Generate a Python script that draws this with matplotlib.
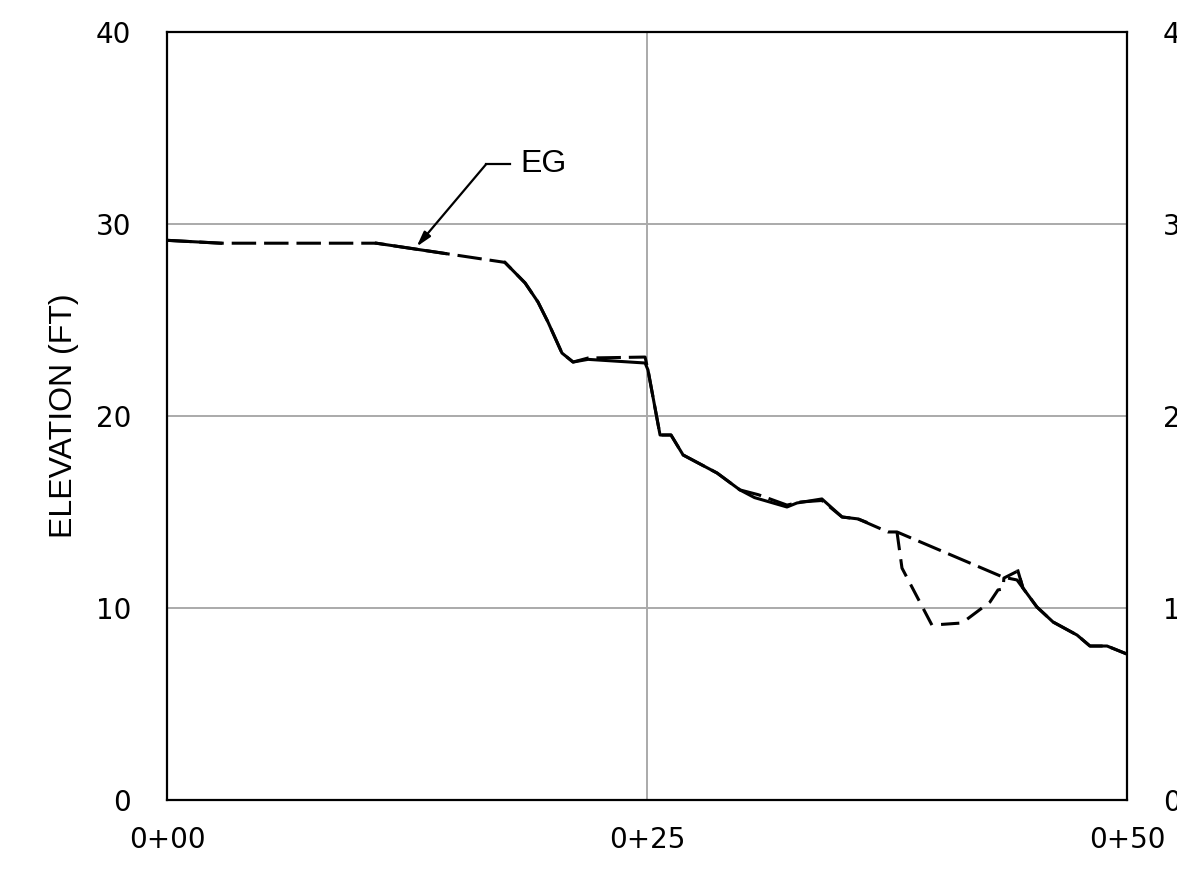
import numpy as np
import matplotlib
matplotlib.use("Agg")
import matplotlib.pyplot as plt

plt.rcParams['font.family'] = ['Liberation Sans', 'DejaVu Sans']

# Existing ground (solid), NaN = no solid segment drawn
eg_x = [0, 2.8, np.nan, 10.9, 14.5, np.nan, 17.6, 18.65, 19.32, 19.84, 20.57, 21.15, 21.93, 24.9,
        25.05, 25.68, 26.25, 26.88, 28.65, 29.84, 30.6, 32.29, 32.81, 34.11, 35.16, 35.99, 36.4,
        np.nan, 44.32, 44.58, 45.31, 46.15, 47.40, 48.07, 48.96, 50]
eg_y = [29.15, 29.0, np.nan, 29.0, 28.46, np.nan, 28.0, 26.93, 25.94, 24.9, 23.28, 22.81, 22.95, 22.76,
        22.4, 19.01, 19.01, 17.97, 17.03, 16.15, 15.75, 15.26, 15.47, 15.68, 14.74, 14.64, 14.48,
        np.nan, 11.93, 11.04, 10.05, 9.27, 8.59, 8.02, 8.02, 7.60]

# Dashed profile (straight across the low area)
pa_x = [0, 2.8, 10.9, 17.6, 18.65, 19.32, 19.84, 20.57, 21.15, 21.93, 24.9, 25.05, 25.68, 26.25,
        26.88, 28.65, 29.84, 30.8, 32.29, 33.0, 34.11, 35.16, 35.99, 37.55, 38.02, 43.54, 44.27,
        44.58, 45.31, 46.15, 47.40, 48.07, 48.96, 50]
pa_y = [29.15, 29.0, 29.0, 28.0, 26.93, 25.94, 24.9, 23.28, 22.81, 23.02, 23.07, 22.4, 19.01, 19.01,
        17.97, 17.03, 16.15, 15.9, 15.36, 15.52, 15.6, 14.74, 14.64, 13.96, 13.96, 11.61, 11.46,
        11.04, 10.05, 9.27, 8.59, 8.02, 8.02, 7.60]

# Dashed profile through the low area
pb_x = [38.02, 38.28, 39.84, 41.41, 42.86, 43.28, 43.54, 43.59, 44.32, 44.58]
pb_y = [13.96, 12.08, 9.11, 9.22, 10.31, 10.94, 10.99, 11.56, 11.93, 11.04]

y_ticks = [0, 10, 20, 30, 40]
x_ticks = [0, 25, 50]
x_labels = ["0+00", "0+25", "0+50"]

fig = plt.figure(figsize=(11.77, 8.76), dpi=100)
ax = fig.add_axes([167/1177, 1-800/876, 960/1177, 768/876])

tick_font = dict(family=['DejaVu Sans'], size=20)

ax.set_xlim(0, 50)
ax.set_ylim(0, 40)
ax.set_xticks(x_ticks)
ax.set_xticklabels(x_labels, fontdict=tick_font)
ax.set_yticks(y_ticks)
ax.set_yticklabels([str(v) for v in y_ticks], fontdict=tick_font)
ax.grid(True, color='#aaaaaa', linewidth=1.4)
ax.set_axisbelow(True)
for s in ax.spines.values():
    s.set_linewidth(1.6)
    s.set_color('black')
ax.tick_params(axis='both', length=0)
ax.tick_params(axis='y', pad=26)
ax.tick_params(axis='x', pad=19)
ax.set_ylabel("ELEVATION (FT)", fontsize=23, labelpad=12)

ax2 = ax.twinx()
ax2.set_ylim(0, 40)
ax2.set_yticks(y_ticks)
ax2.set_yticklabels([str(v) for v in y_ticks], fontdict=tick_font)
ax2.tick_params(axis='y', length=0, pad=26)
for s in ax2.spines.values():
    s.set_visible(False)

lw = 2.2
ax.plot(pa_x, pa_y, color='black', lw=lw, ls=(0, (8, 2.6)), zorder=3)
ax.plot(pb_x, pb_y, color='black', lw=lw, ls=(0, (6, 3)), zorder=3)
ax.plot(eg_x, eg_y, color='black', lw=lw, zorder=4)

# EG leader
ax.annotate('', xy=(13.0, 28.82), xytext=(16.61, 33.1),
            arrowprops=dict(arrowstyle='-|>,head_length=0.9,head_width=0.25', color='black', lw=1.6,
                            shrinkA=0, shrinkB=0), zorder=5)
ax.plot([16.61, 17.86], [33.1, 33.1], color='black', lw=1.6, zorder=5)
ax.text(18.39, 33.1, "EG", fontsize=23, ha='left', va='center', zorder=5)

fig.savefig("out.png", dpi=100)
